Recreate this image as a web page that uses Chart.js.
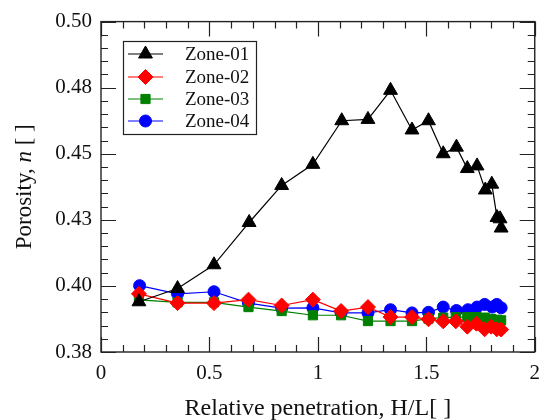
<!DOCTYPE html>
<html>
<head>
<meta charset="utf-8">
<script src="https://cdn.jsdelivr.net/npm/chart.js@4/dist/chart.umd.min.js"></script>
<style>
  html, body { margin: 0; padding: 0; background: #fff; }
  #wrap { width: 549px; height: 420px; }
</style>
</head>
<body>
<div id="wrap"><canvas id="chart" width="549" height="420"></canvas></div>
<script>
// axis ticks
var xTicks = [0, 0.5, 1, 1.5, 2];
var xTickLabels = ['0', '0.5', '1', '1.5', '2'];
var yTicks = [0.375, 0.4, 0.425, 0.45, 0.475, 0.5];
var yTickLabels = ['0.38', '0.40', '0.43', '0.45', '0.48', '0.50'];
var xMinorStep = 0.1;
var yMinorStep = 0.005;

// series
var zone01X = [0.175, 0.353, 0.521, 0.683, 0.833, 0.977, 1.110, 1.231, 1.335, 1.434, 1.510, 1.578, 1.639, 1.689, 1.734, 1.772, 1.802, 1.826, 1.840, 1.845];
var zone01Y = [0.394, 0.399, 0.408, 0.424, 0.438, 0.446, 0.4625, 0.463, 0.474, 0.459, 0.4625, 0.450, 0.4525, 0.4444, 0.4454, 0.4363, 0.4385, 0.4259, 0.4254, 0.4219];

var zone02X = [0.175, 0.353, 0.521, 0.680, 0.833, 0.977, 1.107, 1.231, 1.335, 1.434, 1.510, 1.578, 1.636, 1.689, 1.731, 1.769, 1.799, 1.825, 1.845];
var zone02Y = [0.397, 0.3935, 0.3935, 0.3948, 0.3926, 0.3948, 0.3905, 0.392, 0.3882, 0.3882, 0.3874, 0.3866, 0.3866, 0.3846, 0.3857, 0.3836, 0.3846, 0.3836, 0.3835];

var zone03X = [0.175, 0.353, 0.521, 0.680, 0.833, 0.977, 1.107, 1.231, 1.335, 1.434, 1.510, 1.578, 1.636, 1.689, 1.731, 1.769, 1.799, 1.825, 1.845];
var zone03Y = [0.3947, 0.3938, 0.3938, 0.392, 0.3905, 0.3889, 0.3889, 0.3867, 0.3867, 0.3867, 0.3876, 0.388, 0.3882, 0.3882, 0.3882, 0.388, 0.3875, 0.3872, 0.387];

var zone04X = [0.178, 0.353, 0.521, 0.680, 0.833, 0.977, 1.107, 1.231, 1.335, 1.434, 1.510, 1.578, 1.639, 1.692, 1.734, 1.769, 1.804, 1.825, 1.845];
var zone04Y = [0.4001, 0.397, 0.3978, 0.3935, 0.3916, 0.3917, 0.3898, 0.3898, 0.391, 0.3898, 0.390, 0.392, 0.3907, 0.391, 0.392, 0.393, 0.392, 0.393, 0.3917];

var serif = '"Liberation Serif", "DejaVu Serif", serif';

function pts(xs, ys) {
  return xs.map(function (x, i) { return { x: x, y: ys[i] }; });
}

function series(label, xs, ys, color, style, radius) {
  return {
    label: label,
    data: pts(xs, ys),
    borderColor: color,
    backgroundColor: color,
    pointBackgroundColor: color,
    pointBorderColor: color,
    pointStyle: style,
    pointRadius: radius,
    pointHoverRadius: radius,
    pointBorderWidth: 1,
    borderWidth: 1.2,
    showLine: true,
    fill: false,
    tension: 0
  };
}

// inward ticks on all four sides plus the frame, legend box and y title
var framePlugin = {
  id: 'frame',
  afterDraw: function (chart) {
    var ctx = chart.ctx;
    var a = chart.chartArea;
    var xs = chart.scales.x, ys = chart.scales.y;
    ctx.save();
    ctx.strokeStyle = '#222';
    ctx.lineWidth = 1.4;
    ctx.strokeRect(a.left, a.top, a.right - a.left, a.bottom - a.top);

    ctx.lineWidth = 1.2;
    ctx.beginPath();
    var i, v, p, len;
    var nx = Math.round((xs.max - xs.min) / xMinorStep);
    for (i = 0; i <= nx; i++) {
      v = xs.min + i * xMinorStep;
      p = Math.round(xs.getPixelForValue(v)) + 0.5;
      len = (i % 5 === 0) ? 15 : 7;
      ctx.moveTo(p, a.bottom); ctx.lineTo(p, a.bottom - len);
      ctx.moveTo(p, a.top); ctx.lineTo(p, a.top + len);
    }
    var ny = Math.round((ys.max - ys.min) / yMinorStep);
    for (i = 0; i <= ny; i++) {
      v = ys.min + i * yMinorStep;
      p = Math.round(ys.getPixelForValue(v)) + 0.5;
      len = (i % 5 === 0) ? 15 : 7;
      ctx.moveTo(a.left, p); ctx.lineTo(a.left + len, p);
      ctx.moveTo(a.right, p); ctx.lineTo(a.right - len, p);
    }
    ctx.stroke();

    // y title with italic n
    var parts = [['Porosity, ', 'normal'], ['n', 'italic'], [' [ ]', 'normal']];
    var total = 0;
    parts.forEach(function (pt) {
      ctx.font = pt[1] + ' 23px ' + serif;
      pt.push(ctx.measureText(pt[0]).width);
      total += pt[2];
    });
    ctx.translate(25, (a.top + a.bottom) / 2);
    ctx.rotate(-Math.PI / 2);
    ctx.fillStyle = '#111';
    ctx.textBaseline = 'middle';
    ctx.textAlign = 'left';
    var cx = -total / 2;
    parts.forEach(function (pt) {
      ctx.font = pt[1] + ' 23px ' + serif;
      ctx.fillText(pt[0], cx, 0);
      cx += pt[2];
    });
    ctx.restore();

    // legend
    ctx.save();
    ctx.strokeStyle = '#222';
    ctx.lineWidth = 1.2;
    ctx.strokeRect(123.5, 41.5, 133, 93);
    var rowY = [54, 77, 99, 121];
    chart.data.datasets.forEach(function (ds, k) {
      var y = rowY[k];
      ctx.strokeStyle = ds.borderColor;
      ctx.lineWidth = 1.2;
      ctx.beginPath();
      ctx.moveTo(128, y); ctx.lineTo(163, y);
      ctx.stroke();
      ctx.fillStyle = ds.backgroundColor;
      ctx.lineWidth = 1;
      Chart.helpers.drawPoint(ctx, { pointStyle: ds.pointStyle, radius: ds.pointRadius, rotation: 0, borderWidth: 1 }, 145.5, y);
      ctx.fillStyle = '#111';
      ctx.font = '19px ' + serif;
      ctx.textBaseline = 'middle';
      ctx.textAlign = 'left';
      ctx.fillText(ds.label, 185, y + 1);
    });
    ctx.restore();
  }
};

var ctx = document.getElementById('chart').getContext('2d');
var chart = new Chart(ctx, {
  type: 'scatter',
  data: {
    datasets: [
      series('Zone-01', zone01X, zone01Y, '#000000', 'triangle', 8),
      series('Zone-02', zone02X, zone02Y, '#ff0000', 'rectRot', 7.5),
      series('Zone-03', zone03X, zone03Y, '#008000', 'rect', 6.5),
      series('Zone-04', zone04X, zone04Y, '#0000ff', 'circle', 6)
    ]
  },
  options: {
    responsive: false,
    animation: false,
    layout: { padding: { top: 18, right: 10, left: 0, bottom: 0 } },
    plugins: {
      legend: { display: false },
      tooltip: { enabled: false }
    },
    scales: {
      x: {
        type: 'linear',
        min: 0,
        max: 2,
        afterFit: function (s) { s.height = 68; },
        afterBuildTicks: function (s) { s.ticks = xTicks.map(function (v) { return { value: v }; }); },
        grid: { display: false, drawTicks: false },
        border: { display: false },
        ticks: {
          padding: 9,
          color: '#111',
          font: { family: serif, size: 21 },
          callback: function (v) { return xTickLabels[xTicks.indexOf(v)]; }
        },
        title: {
          display: true,
          text: 'Relative penetration, H/L[ ]',
          color: '#111',
          font: { family: serif, size: 24 },
          padding: { top: 0, bottom: -3 }
        }
      },
      y: {
        type: 'linear',
        min: 0.375,
        max: 0.5,
        afterFit: function (s) { s.width = 101; },
        afterBuildTicks: function (s) { s.ticks = yTicks.map(function (v) { return { value: v }; }); },
        grid: { display: false, drawTicks: false },
        border: { display: false },
        ticks: {
          padding: 9,
          color: '#111',
          font: { family: serif, size: 21 },
          callback: function (v, i) { return yTickLabels[i]; }
        }
      }
    }
  },
  plugins: [framePlugin]
});
</script>
</body>
</html>
